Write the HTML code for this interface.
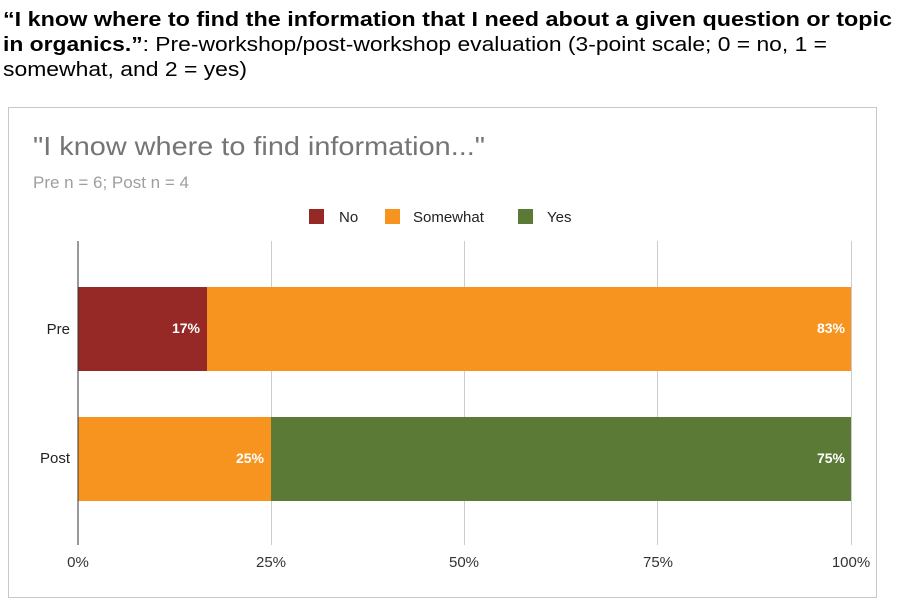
<!DOCTYPE html>
<html><head><style>body{margin:0;background:#fff}</style></head><body>
<svg width="901" height="606" xmlns="http://www.w3.org/2000/svg" style="display:block;font-family:'Liberation Sans',sans-serif">
<text x="3" y="26" font-size="20" font-weight="bold" fill="#000" textLength="889" lengthAdjust="spacingAndGlyphs">“I know where to find the information that I need about a given question or topic</text>
<text x="3" y="51" font-size="20" fill="#000" textLength="824" lengthAdjust="spacingAndGlyphs"><tspan font-weight="bold">in organics.”</tspan>: Pre-workshop/post-workshop evaluation (3-point scale; 0 = no, 1 =</text>
<text x="3" y="76" font-size="20" fill="#000" textLength="244" lengthAdjust="spacingAndGlyphs">somewhat, and 2 = yes)</text>
<rect x="8.5" y="107.5" width="868" height="490" fill="#fff" stroke="#c8c8c8"/>
<text x="33" y="155" font-size="26" fill="#757575" textLength="452" lengthAdjust="spacingAndGlyphs">"I know where to find information..."</text>
<text x="33" y="188" font-size="17" fill="#9e9e9e">Pre n = 6; Post n = 4</text>
<rect x="309" y="209" width="15" height="15" fill="#962826"/>
<text x="339" y="222" font-size="15" fill="#222">No</text>
<rect x="385" y="209" width="15" height="15" fill="#f7941f"/>
<text x="413" y="222" font-size="15" fill="#222">Somewhat</text>
<rect x="518" y="209" width="15" height="15" fill="#5b7a36"/>
<text x="547" y="222" font-size="15" fill="#222">Yes</text>
<g stroke="#cccccc" stroke-width="1">
<line x1="271.5" y1="241" x2="271.5" y2="545"/>
<line x1="464.5" y1="241" x2="464.5" y2="545"/>
<line x1="657.5" y1="241" x2="657.5" y2="545"/>
<line x1="851.5" y1="241" x2="851.5" y2="545"/>
</g>
<rect x="78" y="287" width="129" height="84" fill="#962826"/>
<rect x="207" y="287" width="644" height="84" fill="#f7941f"/>
<rect x="78" y="417" width="193" height="84" fill="#f7941f"/>
<rect x="271" y="417" width="580" height="84" fill="#5b7a36"/>
<line x1="78" y1="241" x2="78" y2="545" stroke="#333" stroke-width="1"/>
<g font-size="14" font-weight="bold" fill="#fff" text-anchor="end">
<text x="200" y="333">17%</text>
<text x="845" y="333">83%</text>
<text x="264" y="463">25%</text>
<text x="845" y="463">75%</text>
</g>
<g font-size="15" fill="#222" text-anchor="end">
<text x="70" y="334">Pre</text>
<text x="70" y="463">Post</text>
</g>
<g font-size="15" fill="#333" text-anchor="middle">
<text x="78" y="567">0%</text>
<text x="271" y="567">25%</text>
<text x="464" y="567">50%</text>
<text x="658" y="567">75%</text>
<text x="851" y="567">100%</text>
</g>
</svg>
</body></html>
